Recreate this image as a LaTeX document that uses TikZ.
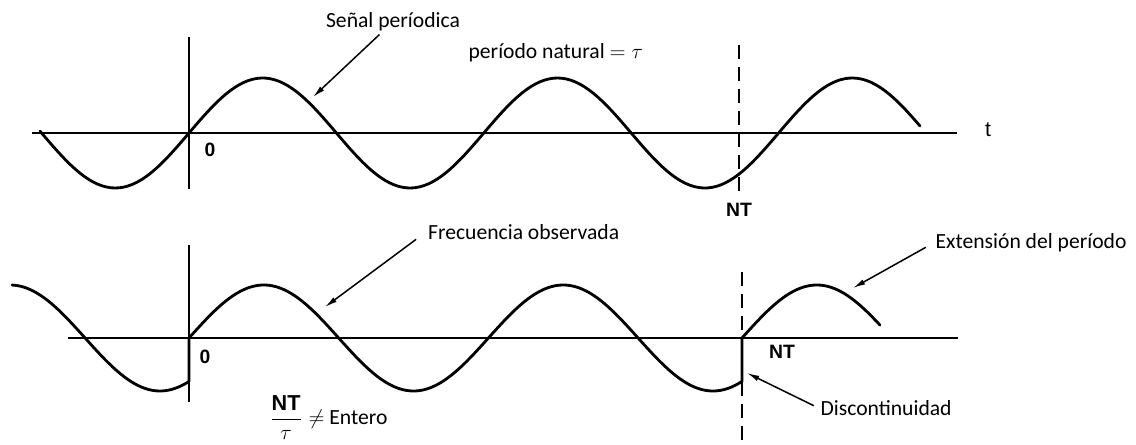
\documentclass[tikz,border=0pt]{standalone}
\usepackage{amsmath}
\usepackage{fontspec}
\setmainfont{Carlito}
\newfontfamily\escaneo{Liberation Sans}
\usepackage{tikz}
\usetikzlibrary{arrows.meta}

\begin{document}
\begin{tikzpicture}[>={Latex[length=7pt,width=3.2pt]},
senal/.style={line width=1.6pt,line join=round,line cap=round},
eje/.style={line width=1.1pt},
ejev/.style={line width=0.75pt},
corte/.style={line width=1pt,dash pattern=on 8pt off 4.5pt},
etiqueta/.style={font=\fontsize{12.3}{14}\selectfont,inner sep=1pt},
marca/.style={font=\escaneo\bfseries\fontsize{11}{13}\selectfont,inner sep=1pt},
flecha/.style={->,line width=0.85pt}]
\useasboundingbox(0,0)rectangle(22.72,8.88);
%% senal periodica (arriba)
\draw[eje](0.64,6.22)--(19.14,6.22);
\draw[ejev](3.78,8.14)--(3.78,5.10);
\draw[corte](14.78,7.98)--(14.78,5.04);
\draw[senal,domain=0.8:18.4,samples=200,variable=\x]plot(\x,{6.22+1.1*sin(180*(\x-3.78)/2.948)});
\node[marca,font=\escaneo\fontsize{12}{13}\selectfont](t) at (19.76,6.28){t};
\node[marca](cero1) at (4.2,5.88){0};
\node[marca](nt1) at (14.78,4.68){NT};
\node[etiqueta](senal) at (7.86,8.44){Señal períodica};
\node[etiqueta,anchor=west](periodo) at (9.33,7.82){período natural $=\tau$};
\coordinate(senalpunta) at (6.26,6.94);
\draw[flecha,shorten <=1pt]([xshift=-7pt]senal.south)--(senalpunta);
%% senal observada (abajo)
\draw[eje](1.36,2.12)--(19.16,2.12);
\draw[ejev](3.78,3.98)--(3.78,0.84);
\draw[corte](14.84,3.44)--(14.84,0);
\draw[senal,variable=\x]plot[domain=0.24:3.78,samples=60](\x,{2.12+1.06*sin(180*(\x+7.28)/2.994)})--(3.78,2.12)
--plot[domain=3.78:14.84,samples=200](\x,{2.12+1.06*sin(180*(\x-3.78)/2.994)})--(14.84,2.12)
--plot[domain=14.84:17.6,samples=60](\x,{2.12+1.06*sin(180*(\x-14.84)/2.994)});
\node[marca](cero2) at (4.1,1.74){0};
\node[marca](nt2) at (15.64,1.84){NT};
\node[etiqueta,anchor=west](frec) at (8.52,4.24){Frecuencia observada};
\node[etiqueta,anchor=west](ext) at (18.67,4.02){Extensión del período};
\node[etiqueta,anchor=west](disc) at (16.37,0.72){Discontinuidad};
\node[etiqueta,anchor=west](razon) at (5.35,0.53){$\dfrac{\text{\escaneo\bfseries NT}}{\tau}\neq$ Entero};
\coordinate(frecpunta) at (6.5,2.74);
\coordinate(extpunta) at (17.06,3.12);
\coordinate(discpunta) at (14.94,1.42);
\draw[flecha,shorten <=7pt](frec.west)--(frecpunta);
\draw[flecha,shorten <=5pt](ext.west)--(extpunta);
\draw[flecha,shorten <=3pt](disc.west)--(discpunta);
\end{tikzpicture}
\end{document}
